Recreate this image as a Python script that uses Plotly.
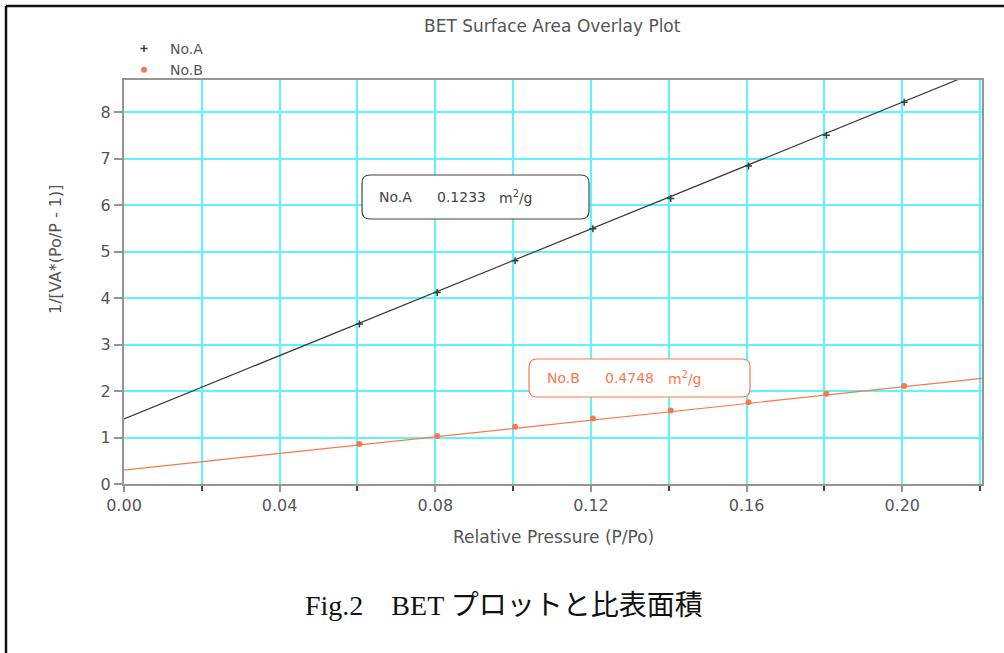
import plotly.graph_objects as go

# ---- data ----
p_points = [0.0605, 0.0805, 0.1005, 0.1205, 0.1405, 0.1605, 0.1805, 0.2005]
bet_A = [3.44, 4.12, 4.80, 5.49, 6.14, 6.84, 7.50, 8.21]
bet_B = [0.86, 1.03, 1.23, 1.41, 1.58, 1.76, 1.94, 2.11]
fit_x = [0.0, 0.2205]
fit_A = [1.40, 8.91]
fit_B = [0.30, 2.27]
sample_names = ["No.A", "No.B"]
surface_areas = ["0.1233", "0.4748"]
area_unit = "m<sup>2</sup>/g"
x_ticks = [0.00, 0.04, 0.08, 0.12, 0.16, 0.20]
y_ticks = [0, 1, 2, 3, 4, 5, 6, 7, 8]

BLACK = "#3a3a3a"
ORANGE = "#f47a4e"
CYAN = "#5ff2ff"
GREY = "#959595"
TXT = "#555555"
FONT = "DejaVu Sans, Verdana, sans-serif"

fig = go.Figure()
fig.add_trace(go.Scatter(x=fit_x, y=fit_A, mode="lines", line=dict(color=BLACK, width=1.2),
                         showlegend=False, hoverinfo="skip"))
fig.add_trace(go.Scatter(x=fit_x, y=fit_B, mode="lines", line=dict(color=ORANGE, width=1.2),
                         showlegend=False, hoverinfo="skip"))
fig.add_trace(go.Scatter(x=p_points, y=bet_A, mode="markers", name=sample_names[0],
                         marker=dict(symbol="cross-thin-open", size=5, color=BLACK,
                                     line=dict(color=BLACK, width=1.5))))
fig.add_trace(go.Scatter(x=p_points, y=bet_B, mode="markers", name=sample_names[1],
                         marker=dict(symbol="circle", size=6, color=ORANGE)))

XMAX, YMAX = 0.2205, 8.69
L, R, T, B = 124, 22, 80, 169
W, H = 1004, 653
pw, ph = W - L - R, H - T - B


def px_x(px):
    return (px - L) / pw


def px_y(py):
    return (T + ph - py) / ph


def rrect(x0, x1, y0, y1, rpx=8):
    # rounded rectangle path given in paper fractions
    rx = rpx / pw
    ry = rpx / ph
    return (f"M {x0+rx},{y1} L {x1-rx},{y1} Q {x1},{y1} {x1},{y1-ry} "
            f"L {x1},{y0+ry} Q {x1},{y0} {x1-rx},{y0} L {x0+rx},{y0} "
            f"Q {x0},{y0} {x0},{y0+ry} L {x0},{y1-ry} Q {x0},{y1} {x0+rx},{y1} Z")


shapes = [
    dict(type="path", xref="paper", yref="paper",
         path=rrect(px_x(362), px_x(589), px_y(219), px_y(175)),
         line=dict(color="#444444", width=1.2), fillcolor="white", layer="above"),
    dict(type="path", xref="paper", yref="paper",
         path=rrect(px_x(529), px_x(750), px_y(397), px_y(359)),
         line=dict(color=ORANGE, width=1.2), fillcolor="white", layer="above"),
    # outer frame (top and left edges visible)
    dict(type="line", xref="paper", yref="paper", x0=px_x(6), x1=px_x(1004), y0=px_y(6), y1=px_y(6),
         line=dict(color="#111111", width=2.5)),
    dict(type="line", xref="paper", yref="paper", x0=px_x(6), x1=px_x(6), y0=px_y(6), y1=px_y(653),
         line=dict(color="#111111", width=2.5)),
]

annotations = []
box_specs = [((377, 435, 497), 197, "#444444"), ((545, 603, 666), 378, ORANGE)]
for i, ((xa, xb, xc), yy, col) in enumerate(box_specs):
    for xp, txt in ((xa, sample_names[i]), (xb, surface_areas[i]), (xc, area_unit)):
        annotations.append(dict(x=px_x(xp), y=px_y(yy), xref="paper", yref="paper",
                                xanchor="left", yanchor="middle", text=txt, showarrow=False,
                                font=dict(family=FONT, size=14, color=col)))

annotations += [
    dict(x=px_x(552), y=px_y(26), xref="paper", yref="paper", xanchor="center", yanchor="middle",
         text="BET Surface Area Overlay Plot", showarrow=False,
         font=dict(family=FONT, size=17, color=TXT)),
    dict(x=px_x(55), y=px_y(250), xref="paper", yref="paper", xanchor="center", yanchor="middle",
         text="1/[VA*(Po/P - 1)]", textangle=-90, showarrow=False,
         font=dict(family=FONT, size=16, color=TXT)),
    dict(x=px_x(553), y=px_y(537), xref="paper", yref="paper", xanchor="center", yanchor="middle",
         text="Relative Pressure (P/Po)", showarrow=False,
         font=dict(family=FONT, size=17, color=TXT)),
    dict(x=px_x(504), y=px_y(605), xref="paper", yref="paper", xanchor="center", yanchor="middle",
         text="Fig.2　BET プロットと比表面積", showarrow=False,
         font=dict(family="Liberation Serif, Noto Sans CJK JP, serif", size=28, color="#111111")),
]

fig.update_layout(
    width=W, height=H,
    margin=dict(l=L, r=R, t=T, b=B),
    paper_bgcolor="white", plot_bgcolor="white",
    shapes=shapes, annotations=annotations,
    font=dict(family=FONT, size=13, color=TXT),
    legend=dict(x=px_x(118), y=px_y(33), xanchor="left", yanchor="top",
                bgcolor="rgba(0,0,0,0)", font=dict(family=FONT, size=14, color=TXT),
                itemwidth=42, tracegroupgap=0),
    showlegend=True,
)
fig.update_xaxes(range=[0, XMAX], tickvals=x_ticks, tickformat=".2f",
                 ticks="outside", ticklen=6, tickcolor=GREY, tickwidth=1.5,
                 showline=True, linecolor=GREY, linewidth=2, mirror=True,
                 showgrid=True, gridcolor=CYAN, gridwidth=1.5, zeroline=False,
                 minor=dict(dtick=0.02, tick0=0, ticks="outside", ticklen=5, tickcolor="#444444",
                            showgrid=True, gridcolor=CYAN, gridwidth=1.5),
                 tickfont=dict(family=FONT, size=16, color=TXT))
fig.update_yaxes(range=[0, YMAX], tickvals=y_ticks,
                 ticks="outside", ticklen=8, tickcolor=GREY, tickwidth=1.5,
                 showline=True, linecolor=GREY, linewidth=2, mirror=True,
                 showgrid=True, gridcolor=CYAN, gridwidth=1.5, zeroline=False,
                 tickfont=dict(family=FONT, size=16, color=TXT))

fig.write_html("out.html", config={"displayModeBar": False},
               post_script="document.body.style.margin='0';document.body.style.overflow='hidden';")
